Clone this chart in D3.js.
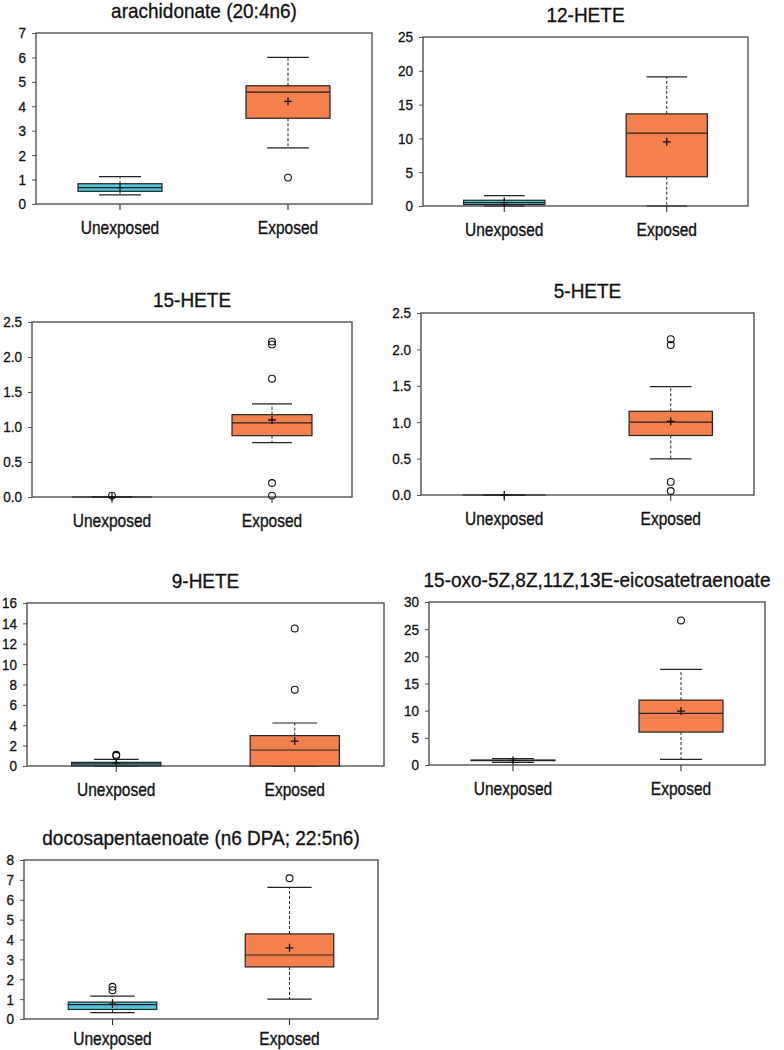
<!DOCTYPE html>
<html>
<head>
<meta charset="utf-8">
<script src="https://cdn.jsdelivr.net/npm/d3@7"></script>
<style>
  html, body { margin: 0; padding: 0; background: #fff; }
  text { font-family: "Liberation Sans", Arial, sans-serif; fill: #111; stroke: #111; stroke-width: 0.3px; }
</style>
</head>
<body>
<script>
// ---------------- DATA ----------------
const categories = ["Unexposed", "Exposed"];
const titles = [
  "arachidonate (20:4n6)",
  "12-HETE",
  "15-HETE",
  "5-HETE",
  "9-HETE",
  "15-oxo-5Z,8Z,11Z,13E-eicosatetraenoate",
  "docosapentaenoate (n6 DPA; 22:5n6)"
];
const yMax  = [7, 25, 2.5, 2.5, 16, 30, 8];
const yStep = [1, 5, 0.5, 0.5, 2, 5, 1];
const yDecimals = [0, 0, 1, 1, 0, 0, 0];

// five-number boxes per panel: [lowWhisker, q1, median, q3, highWhisker] for [Unexposed, Exposed]
const arachidonateBoxes = [[0.37, 0.52, 0.67, 0.83, 1.12], [2.30, 3.51, 4.58, 4.84, 6.00]];
const hete12Boxes       = [[0.00, 0.20, 0.50, 0.85, 1.53], [0.00, 4.33, 10.78, 13.63, 19.10]];
const hete15Boxes       = [[0.00, 0.00, 0.00, 0.00, 0.00], [0.776, 0.876, 1.06, 1.176, 1.33]];
const hete5Boxes        = [[0.00, 0.00, 0.00, 0.00, 0.00], [0.495, 0.817, 1.00, 1.15, 1.49]];
const hete9Boxes        = [[0.00, 0.02, 0.20, 0.36, 0.65], [0.00, 0.00, 1.57, 2.98, 4.22]];
const oxoEteBoxes       = [[0.50, 0.80, 0.85, 0.90, 1.20], [1.04, 6.06, 9.49, 11.94, 17.60]];
const dpaBoxes          = [[0.32, 0.48, 0.72, 0.85, 1.15], [1.00, 2.62, 3.22, 4.28, 6.62]];

// means per panel [Unexposed, Exposed]
const arachidonateMeans = [0.67, 4.20];
const hete12Means       = [0.50, 9.50];
const hete15Means       = [0.00, 1.10];
const hete5Means        = [0.00, 1.01];
const hete9Means        = [0.30, 2.45];
const oxoEteMeans       = [0.85, 9.92];
const dpaMeans          = [0.75, 3.58];

// outliers per panel [Unexposed, Exposed]
const arachidonateOutliers = [[], [1.08]];
const hete12Outliers       = [[], []];
const hete15Outliers       = [[0.02], [2.22, 2.18, 1.69, 0.20, 0.02]];
const hete5Outliers        = [[], [2.14, 2.06, 0.18, 0.055]];
const hete9Outliers        = [[1.10, 1.00], [13.5, 7.49]];
const oxoEteOutliers       = [[], [26.6]];
const dpaOutliers          = [[1.62, 1.45], [7.08]];

const allBoxes = [arachidonateBoxes, hete12Boxes, hete15Boxes, hete5Boxes, hete9Boxes, oxoEteBoxes, dpaBoxes];
const allMeans = [arachidonateMeans, hete12Means, hete15Means, hete5Means, hete9Means, oxoEteMeans, dpaMeans];
const allOutliers = [arachidonateOutliers, hete12Outliers, hete15Outliers, hete5Outliers, hete9Outliers, oxoEteOutliers, dpaOutliers];

// ---------------- LAYOUT ----------------
// plot frames [left, top, right, bottom]
const layout = [
  [36, 33, 372, 204],
  [423, 37, 748, 206],
  [32, 322, 352, 497],
  [421, 313, 754, 495],
  [27, 603, 384, 766],
  [429, 602, 765, 765],
  [24, 860, 378, 1019]
];
const labelOffset = [30, 30, 30, 30, 30, 30, 26];
const fills = ["#52C5DC", "#F4804E"];

const svg = d3.select("body").append("svg")
  .attr("width", 784).attr("height", 1050);

titles.forEach((title, i) => {
  const [L, T, R, B] = layout[i];
  const g = svg.append("g");
  const y = d3.scaleLinear().domain([0, yMax[i]]).range([B, T]);
  const x = d3.scalePoint().domain(categories).range([L, R]).padding(0.5);
  const bw = x.step() / 2;
  const capW = bw / 2;

  // title
  g.append("text")
    .attr("transform", `translate(${(L + R) / 2},${T - 15}) scale(1,1.05)`)
    .attr("text-anchor", "middle")
    .style("font-size", "19px")
    .text(title);

  // y axis
  const tv = d3.range(0, yMax[i] + yStep[i] / 2, yStep[i]);
  const ax = g.append("g")
    .attr("transform", `translate(${L},0)`)
    .call(d3.axisLeft(y).tickValues(tv).tickFormat(d3.format("." + yDecimals[i] + "f")).tickSize(4).tickPadding(6));
  ax.select(".domain").remove();
  ax.selectAll(".tick line").attr("stroke", "#555");
  ax.selectAll(".tick text")
    .attr("transform", "scale(1,1.15)")
    .style("font-size", "13.5px")
    .attr("fill", "#111");

  // x axis ticks + labels
  categories.forEach(c => {
    g.append("line")
      .attr("x1", x(c)).attr("x2", x(c))
      .attr("y1", B).attr("y2", B + 6)
      .attr("stroke", "#222").attr("stroke-width", 1);
    g.append("text")
      .attr("transform", `translate(${x(c)},${B + labelOffset[i]}) scale(1,1.2)`)
      .attr("text-anchor", "middle")
      .style("font-size", "15.5px")
      .text(c);
  });

  // frame
  g.append("rect")
    .attr("x", L).attr("y", T)
    .attr("width", R - L).attr("height", B - T)
    .attr("fill", "none").attr("stroke", "#444").attr("stroke-width", 1.3);

  // boxes
  categories.forEach((c, k) => {
    const [lo, q1, med, q3, hi] = allBoxes[i][k];
    const cx = x(c);
    const bg = g.append("g");
    // whiskers (dashed)
    bg.append("line").attr("x1", cx).attr("x2", cx).attr("y1", y(q3)).attr("y2", y(hi))
      .attr("stroke", "#222").attr("stroke-dasharray", "3,2");
    bg.append("line").attr("x1", cx).attr("x2", cx).attr("y1", y(q1)).attr("y2", y(lo))
      .attr("stroke", "#222").attr("stroke-dasharray", "3,2");
    // caps
    [lo, hi].forEach(v => {
      bg.append("line").attr("x1", cx - capW / 2).attr("x2", cx + capW / 2)
        .attr("y1", y(v)).attr("y2", y(v))
        .attr("stroke", "#222").attr("stroke-width", 1.2);
    });
    // box
    bg.append("rect")
      .attr("x", cx - bw / 2).attr("y", y(q3))
      .attr("width", bw).attr("height", Math.max(0, y(q1) - y(q3)))
      .attr("fill", fills[k]).attr("stroke", "#222").attr("stroke-width", 1.2);
    // median
    bg.append("line").attr("x1", cx - bw / 2).attr("x2", cx + bw / 2)
      .attr("y1", y(med)).attr("y2", y(med))
      .attr("stroke", "#222").attr("stroke-width", 1.2);
    // mean (+)
    const my = y(allMeans[i][k]);
    bg.append("path")
      .attr("d", `M${cx - 4},${my}H${cx + 4}M${cx},${my - 4}V${my + 4}`)
      .attr("stroke", "#111").attr("stroke-width", 1.3).attr("fill", "none");
    // outliers
    bg.selectAll("circle.o").data(allOutliers[i][k]).enter()
      .append("circle")
      .attr("cx", cx).attr("cy", d => y(d)).attr("r", 3.4)
      .attr("fill", "none").attr("stroke", "#111").attr("stroke-width", 1.1);
  });
});
</script>
</body>
</html>
